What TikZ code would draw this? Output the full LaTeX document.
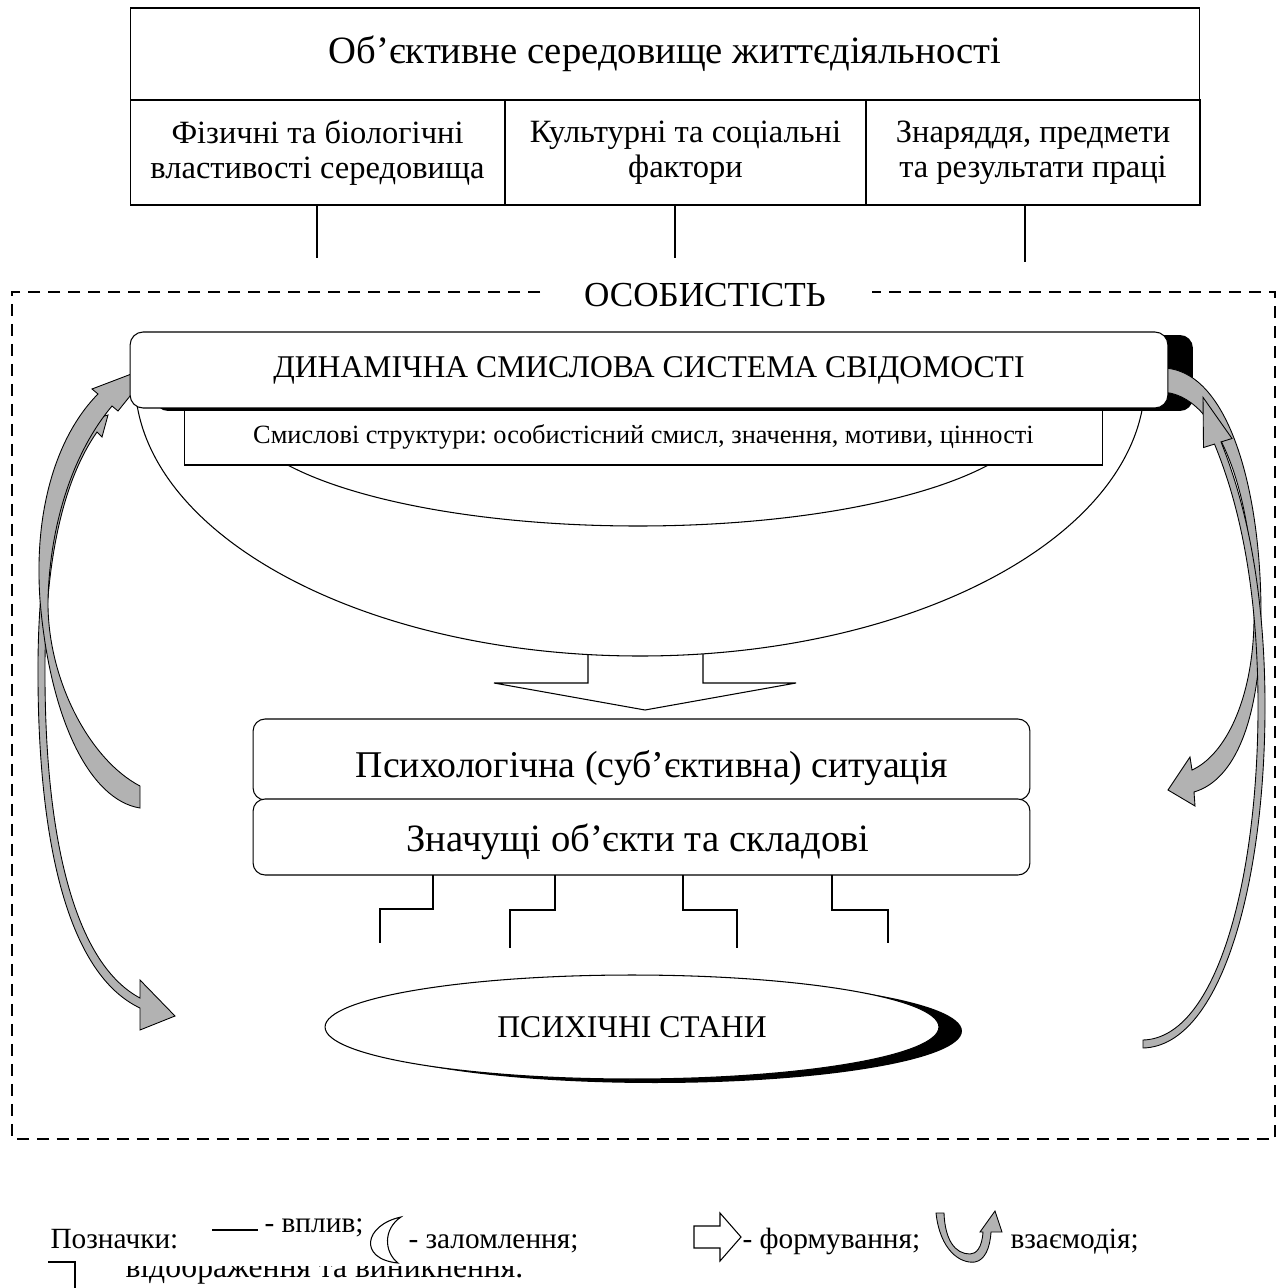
\documentclass[tikz,border=0pt]{standalone}
\usepackage{fontspec}
\setmainfont{Liberation Serif}
\usetikzlibrary{shapes.geometric}
\definecolor{agray}{gray}{0.7}
\frenchspacing
\begin{document}
\begin{tikzpicture}[x=0.02cm,y=-0.02cm, line width=0.6pt,
  box/.style={draw, fill=white, inner sep=0pt, outer sep=0pt},
  rbox/.style={box, rounded corners=0.26cm},
  garr/.style={fill=agray, draw=black, line width=0.5pt, line join=miter},
  dline/.style={dash pattern=on 0.24cm off 0.16cm, line width=0.9pt},
  lg/.style={anchor=base west, inner sep=0pt, font=\fontsize{16.7}{20}\selectfont},
]
\useasboundingbox (0,0) rectangle (1285,1288);

% dashed frame of the personality
\draw[dline] (540,292) -- (12,292) -- (12,1139) -- (1275,1139) -- (1275,292) -- (872,292);
\node[font=\fontsize{20}{24}\selectfont, inner sep=0pt] (lich) at (705,295) {ОСОБИСТІСТЬ};

% top table
\node[box, minimum width=21.4cm, minimum height=1.84cm, font=\fontsize{22}{26}\selectfont] (env) at (665,54) {Об’єктивне середовище життєдіяльності};
\node[box, minimum width=7.5cm, minimum height=2.1cm, align=center, font=\fontsize{18.5}{20}\selectfont] (c1) at (317.5,152.5) {Фізичні та біологічні\\властивості середовища};
\node[box, minimum width=7.22cm, minimum height=2.1cm, align=center, font=\fontsize{18.5}{20}\selectfont] (c2) at (685.5,152.5) {Культурні та соціальні\\фактори};
\node[box, minimum width=6.68cm, minimum height=2.1cm, align=center, font=\fontsize{18.5}{20}\selectfont] (c3) at (1033,152.5) {Знаряддя, предмети\\та результати праці};
\coordinate (v1) at (317,258);
\coordinate (v2) at (675,258);
\coordinate (v3) at (1025,262);
\draw (c1.south -| v1) -- (v1);
\draw (c2.south -| v2) -- (v2);
\draw (c3.south -| v3) -- (v3);

% formation arrow
\draw[fill=white] (588,640) -- (588,683) -- (494,683) -- (645,710) -- (796,683) -- (703,683) -- (703,640);

% refraction crescent
\draw[fill=white] (135,380) arc[start angle=180, end angle=0, x radius=505, y radius=276]
  -- (1038,408) arc[start angle=0, end angle=180, x radius=400, y radius=118] -- cycle;

% meaning structures box
\node[box, minimum width=18.38cm, minimum height=1.14cm, font=\fontsize{15}{18}\selectfont] (sm) at (643.5,436.5) {Смислові структури: особистісний смисл, значення, мотиви, цінності};

% shadow of the main box
\node[fill=black, rounded corners=0.26cm, minimum width=20.76cm, minimum height=1.52cm, inner sep=0pt] (dsssSh) at (674,373) {};

% interaction arrows, left
\draw[garr] (91,426) .. controls (55,475) and (37,560) .. (38,680) .. controls (39,850) and (70,975) .. (140,1008)
  -- (140,1030) -- (175,1016) -- (140,980) -- (140,998)
  .. controls (78,965) and (46,850) .. (45,680) .. controls (44,565) and (62,482) .. (97,432)
  -- (102,437) -- (108,415) -- (86,421) -- cycle;
\draw[garr] (140,808) .. controls (90,800) and (50,720) .. (40,600) .. controls (33,500) and (62,430) .. (98,394)
  -- (92,389) -- (155,365) -- (118,411) -- (112,406)
  .. controls (75,450) and (50,520) .. (48,600) .. controls (47,680) and (90,760) .. (140,786) -- cycle;

% interaction arrows, right
\draw[garr] (1160,368) .. controls (1228,366) and (1262,490) .. (1261,620) .. controls (1260,720) and (1235,780) .. (1194,792)
  -- (1195,806) -- (1168,790) -- (1190,757) -- (1192,770)
  .. controls (1225,755) and (1253,700) .. (1254,620) .. controls (1255,500) and (1220,392) .. (1160,392) -- cycle;
\draw[garr] (1143,1048) .. controls (1222,1046) and (1266,880) .. (1265,700) .. controls (1264,560) and (1236,480) .. (1221,441.9)
  -- (1232,438.5) -- (1203,397.3) -- (1203.5,447.5) -- (1214.5,444.1)
  .. controls (1230,482) and (1257,560) .. (1258,700) .. controls (1259,875) and (1218,1038) .. (1143,1040) -- cycle;

% main box
\node[rbox, minimum width=20.76cm, minimum height=1.52cm, font=\fontsize{18}{22}\selectfont] (dsss) at (649,370) {ДИНАМІЧНА СМИСЛОВА СИСТЕМА СВІДОМОСТІ};

% situation boxes
\node[rbox, rounded corners=0.24cm, minimum width=15.54cm, minimum height=1.62cm] (psy) at (641.5,759.5) {};
\node[font=\fontsize{21.5}{26}\selectfont, inner sep=0pt] (psyT) at (652,768) {Психологічна (суб’єктивна) ситуація};
\node[rbox, rounded corners=0.24cm, minimum width=15.54cm, minimum height=1.52cm] (zn) at (641.5,837) {};
\node[font=\fontsize{22}{26}\selectfont, inner sep=0pt] (znT) at (638,842) {Значущі об’єкти та складові};

% reflection connectors
\coordinate (k1) at (433,909); \coordinate (e1) at (380,943);
\coordinate (k2) at (555,910); \coordinate (e2) at (510,948);
\coordinate (k3) at (683,910); \coordinate (e3) at (737,948);
\coordinate (k4) at (832,910); \coordinate (e4) at (888,943);
\draw (zn.south -| k1) -- (k1) -- (k1 -| e1) -- (e1);
\draw (zn.south -| k2) -- (k2) -- (k2 -| e2) -- (e2);
\draw (zn.south -| k3) -- (k3) -- (k3 -| e3) -- (e3);
\draw (zn.south -| k4) -- (k4) -- (k4 -| e4) -- (e4);

% mental states
\node[ellipse, fill=black, minimum width=12.28cm, minimum height=2.08cm, inner sep=0pt] (stSh) at (655,1031) {};
\node[ellipse, draw, fill=white, minimum width=12.28cm, minimum height=2.08cm, inner sep=0pt, font=\fontsize{18}{22}\selectfont] (st) at (632,1027) {ПСИХІЧНІ СТАНИ};

% legend
\node[lg] (leg) at (50,1248) {Позначки:};
\coordinate (lA) at (212,1230); \coordinate (lB) at (258,1230);
\draw (lA) -- (lB);
\node[lg] (lvp) at (264,1232) {- вплив;};
\draw[fill=white] (401,1217) .. controls (364,1225) and (358,1259) .. (398,1263) .. controls (384,1252) and (383,1229) .. (401,1217) -- cycle;
\node[lg] (lzal) at (408,1248) {- заломлення;};
\draw[fill=white] (694,1226) -- (720,1226) -- (720,1213) -- (741,1237) -- (720,1261) -- (720,1248) -- (694,1248) -- cycle;
\node[lg] (lform) at (742,1248) {- формування;};
\draw[garr] (936,1213) .. controls (940,1250) and (960,1264) .. (975,1262) .. controls (985,1260) and (990,1248) .. (991,1232)
  -- (1002,1232) -- (995,1211) -- (980,1232) -- (983,1232)
  .. controls (982,1248) and (976,1254) .. (970,1254) .. controls (955,1254) and (945,1240) .. (944,1213) -- cycle;
\node[lg] (lvz) at (1010,1248) {взаємодія;};
\begin{scope}
  \clip (0,1266) rectangle (1285,1288);
  \node[lg, font=\fontsize{18}{22}\selectfont] (lvid) at (125,1277) {відображення та виникнення.};
\end{scope}
\coordinate (lc1) at (48,1262); \coordinate (lc2) at (75,1262); \coordinate (lc3) at (75,1288);
\draw (lc1) -- (lc2) -- (lc3);
\end{tikzpicture}
\end{document}
